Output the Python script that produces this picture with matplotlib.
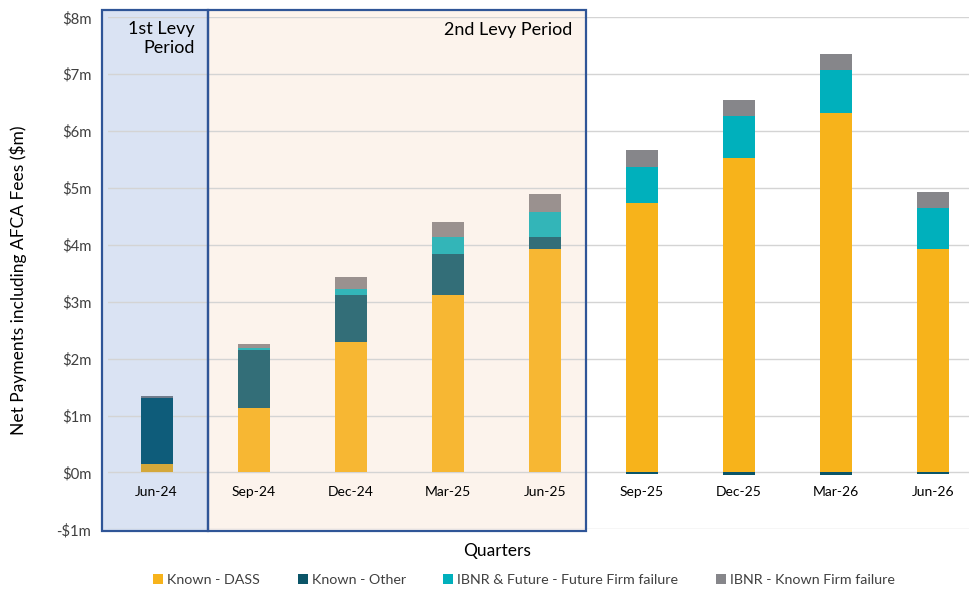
import matplotlib
matplotlib.use("Agg")
import numpy as np
import matplotlib.pyplot as plt
from matplotlib.patches import Rectangle, Patch

plt.rcParams['font.family'] = ['Lato', 'DejaVu Sans']

# quarters and stacked components ($m)
quarters = ["Jun-24", "Sep-24", "Dec-24", "Mar-25", "Jun-25",
            "Sep-25", "Dec-25", "Mar-26", "Jun-26"]
known_dass = [0.14, 1.13, 2.30, 3.12, 3.92, 4.74, 5.53, 6.32, 3.93]
known_other = [1.17, 1.02, 0.82, 0.72, 0.21, -0.03, -0.05, -0.05, -0.03]
ibnr_future = [0.0, 0.03, 0.11, 0.29, 0.45, 0.62, 0.73, 0.76, 0.71]
ibnr_known = [0.04, 0.08, 0.21, 0.27, 0.31, 0.31, 0.29, 0.28, 0.29]

series_names = ["Known - DASS", "Known - Other",
                "IBNR & Future - Future Firm failure", "IBNR - Known Firm failure"]
series_vals = [known_dass, known_other, ibnr_future, ibnr_known]

# colour sets: 1st levy period, 2nd levy period, later quarters
pal_first = ["#D4A83A", "#0E5C7A", "#3AA6B0", "#707C8C"]
pal_second = ["#F7B733", "#336E78", "#33B5B8", "#9A918F"]
pal_rest = ["#F7B31B", "#0B5568", "#00B0BC", "#86868A"]


def bar_palette(i):
    if i == 0:
        return pal_first
    if i <= 4:
        return pal_second
    return pal_rest


fig = plt.figure(figsize=(9.7, 5.92), dpi=100)
ax = fig.add_axes([108 / 970, 1 - 529.3 / 592, 1 - 108 / 970, (529.3 - 17.3) / 592])

x = np.arange(len(quarters))
pos_bottom = np.zeros(len(quarters))
neg_bottom = np.zeros(len(quarters))
for s, vals in enumerate(series_vals):
    for i, v in enumerate(vals):
        if v == 0:
            continue
        col = bar_palette(i)[s]
        if v > 0:
            ax.bar(x[i], v, 0.33, bottom=pos_bottom[i], color=col, zorder=3)
            pos_bottom[i] += v
        else:
            ax.bar(x[i], v, 0.33, bottom=neg_bottom[i], color=col, zorder=3)
            neg_bottom[i] += v

ax.set_xlim(-0.5, (970 - 157) / 97)
ax.set_ylim(-1, 8)
ax.set_yticks(range(-1, 9))
ax.set_yticklabels(["-$1m"] + ["$%dm" % v for v in range(0, 9)], fontsize=10.7, color="#404040")
ax.set_xticks(x)
ax.set_xticklabels(quarters, fontsize=11, color="#404040")
# category axis sits at zero, like the source chart
ax.spines["bottom"].set_position(("data", 0))
ax.tick_params(length=0)
ax.tick_params(axis="y", pad=12)
ax.tick_params(axis="x", pad=10)
for sp in ax.spines.values():
    sp.set_visible(False)
ax.grid(axis="y", color="#D4D4D4", lw=1, zorder=1)
ax.set_axisbelow(True)

# levy period shading and boxes
y0, y1 = -1.03, 8.13
xa, xb, xc = -0.557, 0.526, 4.43
ax.add_patch(Rectangle((xa, y0), xb - xa, y1 - y0, facecolor="#DAE3F3",
                       edgecolor="none", zorder=0, clip_on=False))
ax.add_patch(Rectangle((xb, y0), xc - xb, y1 - y0, facecolor="#FCF3EC",
                       edgecolor="none", zorder=0, clip_on=False))
ax.add_patch(Rectangle((xa, y0), xb - xa, y1 - y0, facecolor="none",
                       edgecolor="#2F5597", lw=1.6, zorder=5, clip_on=False))
ax.add_patch(Rectangle((xb, y0), xc - xb, y1 - y0, facecolor="none",
                       edgecolor="#2F5597", lw=1.6, zorder=5, clip_on=False))

ax.text(0.39, 7.93, "1st Levy\nPeriod", ha="right", va="top", fontsize=13,
        color="black", linespacing=1.2, zorder=6)
ax.text(4.28, 7.91, "2nd Levy Period", ha="right", va="top", fontsize=13,
        color="black", zorder=6)

fig.text(18 / 970, 1 - 280 / 592, "Net Payments including AFCA Fees ($m)",
         rotation=90, ha="center", va="center", fontsize=12.5)
fig.text(497 / 970, 1 - 551 / 592, "Quarters", ha="center", va="center", fontsize=12.5)

handles = [Patch(facecolor=c, edgecolor="none") for c in pal_rest]
fig.legend(handles, series_names, loc="center", bbox_to_anchor=(524 / 970, 1 - 580 / 592),
           ncol=4, frameon=False, fontsize=10.3, handlelength=0.7, handleheight=0.7,
           handletextpad=0.3, columnspacing=2.6, labelcolor="#404040")

fig.savefig("out.png", dpi=100)
